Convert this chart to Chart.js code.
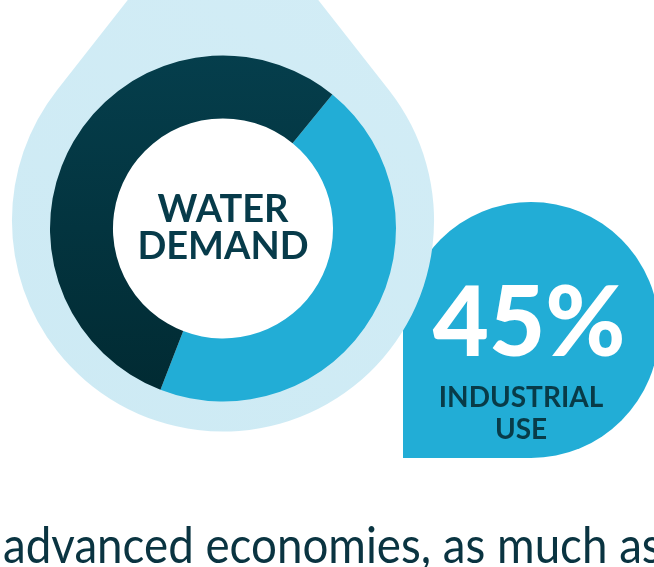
<!DOCTYPE html>
<html>
<head>
<meta charset="utf-8">
<script src="https://cdn.jsdelivr.net/npm/chart.js@4"></script>
<style>
  html, body { margin: 0; padding: 0; background: #fff; }
  body { width: 654px; height: 567px; overflow: hidden; position: relative; font-family: Lato, sans-serif; }
  #wrap { position: absolute; left: 0; top: 0; width: 654px; height: 567px; }
  .txt { position: absolute; white-space: nowrap; text-align: center; }
  #badge { position: absolute; left: 403px; top: 202px; width: 256px; height: 256px; background: #22add6; border-radius: 128px 128px 128px 0; }
  #foot { transform-origin: 0 0; }
</style>
</head>
<body>
<div id="badge"></div>
<div id="wrap"><canvas id="chart"></canvas></div>
<div class="txt" style="left:123px;top:189px;width:200px;font-size:38px;line-height:37px;font-weight:700;color:#073b4a;">WATER<br>DEMAND</div>
<div class="txt" style="left:429px;top:270px;width:200px;font-size:97px;line-height:97px;font-weight:900;color:#fff;">45%</div>
<div class="txt" style="left:421px;top:380px;width:200px;font-size:28px;line-height:32px;font-weight:700;color:#083b48;">INDUSTRIAL<br>USE</div>
<div class="txt" id="foot" style="left:3px;top:519px;text-align:left;font-size:50px;line-height:50px;font-weight:400;color:#0a3441;">advanced economies, as much as</div>
<script>
const ctx = document.getElementById('chart');

const blue = '#22add6';
const navyTop = '#053e4c';
const navyBottom = '#012a32';
const dropColor = '#cdeaf4';

const categories = ['Industrial use', 'Other use'];
const shares = [45, 55];

// squeeze the running text line to the width it has in the layout
const foot = document.getElementById('foot');
foot.style.transform = 'scaleX(' + (659 / foot.offsetWidth) + ')';

// light blue water drop behind the ring, white hole in the middle
const dropPlugin = {
  id: 'drop',
  beforeDatasetsDraw(chart) {
    const arc = chart.getDatasetMeta(0).data[0];
    const c = chart.ctx;
    const cx = arc.x, cy = arc.y - 8;
    const r = arc.outerRadius * 1.22;
    const D = r * 1.62;
    const a = Math.acos(r / D);
    c.save();
    const g = c.createLinearGradient(cx + r, cy - D, cx - r, cy + r);
    g.addColorStop(0, '#d3edf6');
    g.addColorStop(1, dropColor);
    c.fillStyle = g;
    c.beginPath();
    c.moveTo(cx, cy - D);
    c.arc(cx, cy, r, -Math.PI / 2 + a, Math.PI * 1.5 - a, false);
    c.closePath();
    c.fill();
    c.fillStyle = '#fff';
    c.beginPath();
    c.arc(arc.x, arc.y, arc.innerRadius + 1, 0, Math.PI * 2);
    c.fill();
    c.restore();
  }
};

new Chart(ctx, {
  type: 'doughnut',
  data: {
    labels: categories,
    datasets: [{
      data: shares,
      borderWidth: 0,
      backgroundColor: (context) => {
        if (context.dataIndex === 0) return blue;
        const area = context.chart.chartArea;
        if (!area) return navyTop;
        const g = context.chart.ctx.createLinearGradient(0, area.top, 0, area.bottom);
        g.addColorStop(0, navyTop);
        g.addColorStop(1, navyBottom);
        return g;
      }
    }]
  },
  options: {
    responsive: true,
    maintainAspectRatio: false,
    animation: false,
    rotation: 39.2,
    cutout: '63.6%',
    layout: {
      padding: { left: 50, top: 55, right: 258, bottom: 165 }
    },
    events: [],
    plugins: {
      legend: { display: false },
      tooltip: { enabled: false }
    }
  },
  plugins: [dropPlugin]
});
</script>
</body>
</html>
